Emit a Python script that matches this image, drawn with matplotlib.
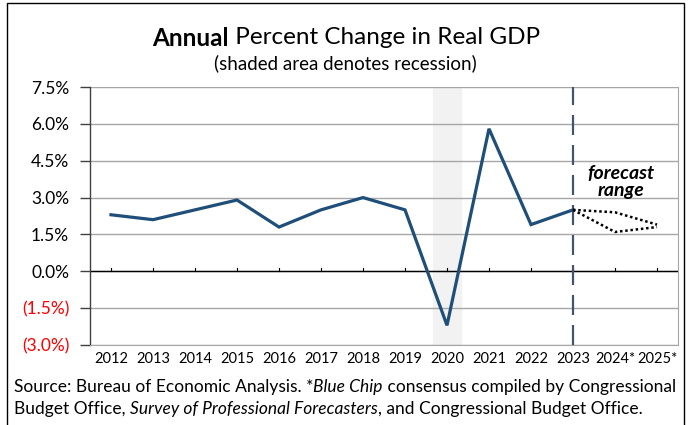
import matplotlib
matplotlib.use("Agg")
import matplotlib.pyplot as plt
from matplotlib.patches import Rectangle

plt.rcParams['font.family'] = ['Lato', 'DejaVu Sans']

# ---- data ----
years = ['2012', '2013', '2014', '2015', '2016', '2017', '2018', '2019',
         '2020', '2021', '2022', '2023', '2024*', '2025*']
gdp = [2.3, 2.1, 2.5, 2.9, 1.8, 2.5, 3.0, 2.5, -2.2, 5.8, 1.9, 2.5]
forecast_high = [2.5, 2.4, 1.9]
forecast_low = [2.5, 1.6, 1.8]
yticks = [-3.0, -1.5, 0.0, 1.5, 3.0, 4.5, 6.0, 7.5]
ytick_labels = ['(3.0%)', '(1.5%)', '0.0%', '1.5%', '3.0%', '4.5%', '6.0%', '7.5%']
recession_year = '2020'
forecast_start = '2023'

W, H = 689, 425
fig = plt.figure(figsize=(W / 100, H / 100), dpi=100)
ax = fig.add_axes([90 / W, (H - 345) / H, (678 - 90) / W, (345 - 87) / H])

x = list(range(len(years)))
ri = years.index(recession_year)
fi = years.index(forecast_start)

ax.axvspan(ri - 0.33, ri + 0.33, color='#F2F2F2', zorder=0)
for yt in yticks:
    ax.axhline(yt, color='#A6A6A6', lw=1.0, zorder=1)
ax.axhline(0, color='black', lw=1.0, zorder=2)
# small ticks on zero line
for xi in x:
    ax.plot([xi, xi], [0, 0.15], color='black', lw=0.8, zorder=2)

ax.plot(x[:len(gdp)], gdp, color='#1F4E79', lw=2.3, zorder=4,
        solid_joinstyle='miter')
ax.plot(x[fi:fi + len(forecast_high)], forecast_high, color='black', lw=1.8,
        linestyle=(0, (1, 1.1)), zorder=4)
ax.plot(x[fi:fi + len(forecast_low)], forecast_low, color='black', lw=1.8,
        linestyle=(0, (1, 1.1)), zorder=4)
ax.axvline(fi, color='#44546A', lw=1.6, linestyle=(0, (9, 4.5)), zorder=3)

ax.text(fi + 1.15, 3.65, 'forecast\nrange', ha='center', va='center',
        fontsize=14, fontweight='bold', fontstyle='italic', linespacing=1.0)

ax.set_xlim(-0.5, len(years) - 0.5)
ax.set_ylim(-3.0, 7.5)
ax.set_xticks(x)
ax.set_xticklabels(years, fontsize=10.5)
ax.tick_params(axis='x', length=0, pad=5)
ax.set_yticks(yticks)
ax.set_yticklabels(ytick_labels, fontsize=12.5)
ax.tick_params(axis='y', length=7, width=1, color='#404040', pad=8)
for lbl, v in zip(ax.get_yticklabels(), yticks):
    lbl.set_color('#FF0000' if v < 0 else 'black')

ax.spines['top'].set_visible(False)
ax.spines['right'].set_color('#A6A6A6')
ax.spines['bottom'].set_color('#A6A6A6')
ax.spines['left'].set_color('#404040')
ax.spines['left'].set_linewidth(1.0)

# outer frame
fig.patches.append(Rectangle((7 / W, -0.01), (684 - 7) / W, (H - 3) / H + 0.01,
                             transform=fig.transFigure, fill=False,
                             edgecolor='black', lw=1.0))

renderer = fig.canvas.get_renderer()


def draw_pieces(pieces, x0, y0, center=False, fontsize=12):
    texts = []
    for s, kw in pieces:
        t = fig.text(0, y0 / H, s, fontsize=fontsize, va='center', ha='left', **kw)
        texts.append(t)
    widths = [t.get_window_extent(renderer).width for t in texts]
    total = sum(widths)
    start = x0 - total / 2 if center else x0
    cur = start
    for t, w in zip(texts, widths):
        t.set_x(cur / W)
        cur += w


draw_pieces([('Annual', dict(fontweight='bold')),
             (' Percent Change in Real GDP', {})],
            346, H - 38, center=True, fontsize=17.5)
fig.text(345 / W, (H - 63) / H, '(shaded area denotes recession)',
         ha='center', va='center', fontsize=13.5)

draw_pieces([('Source: Bureau of Economic Analysis. *', {}),
             ('Blue Chip', dict(fontstyle='italic')),
             (' consensus compiled by Congressional', {})],
            14, H - 387, fontsize=12.5)
draw_pieces([('Budget Office, ', {}),
             ('Survey of Professional Forecasters', dict(fontstyle='italic')),
             (', and Congressional Budget Office.', {})],
            14, H - 409, fontsize=12.5)

fig.savefig('out.png', dpi=100)
